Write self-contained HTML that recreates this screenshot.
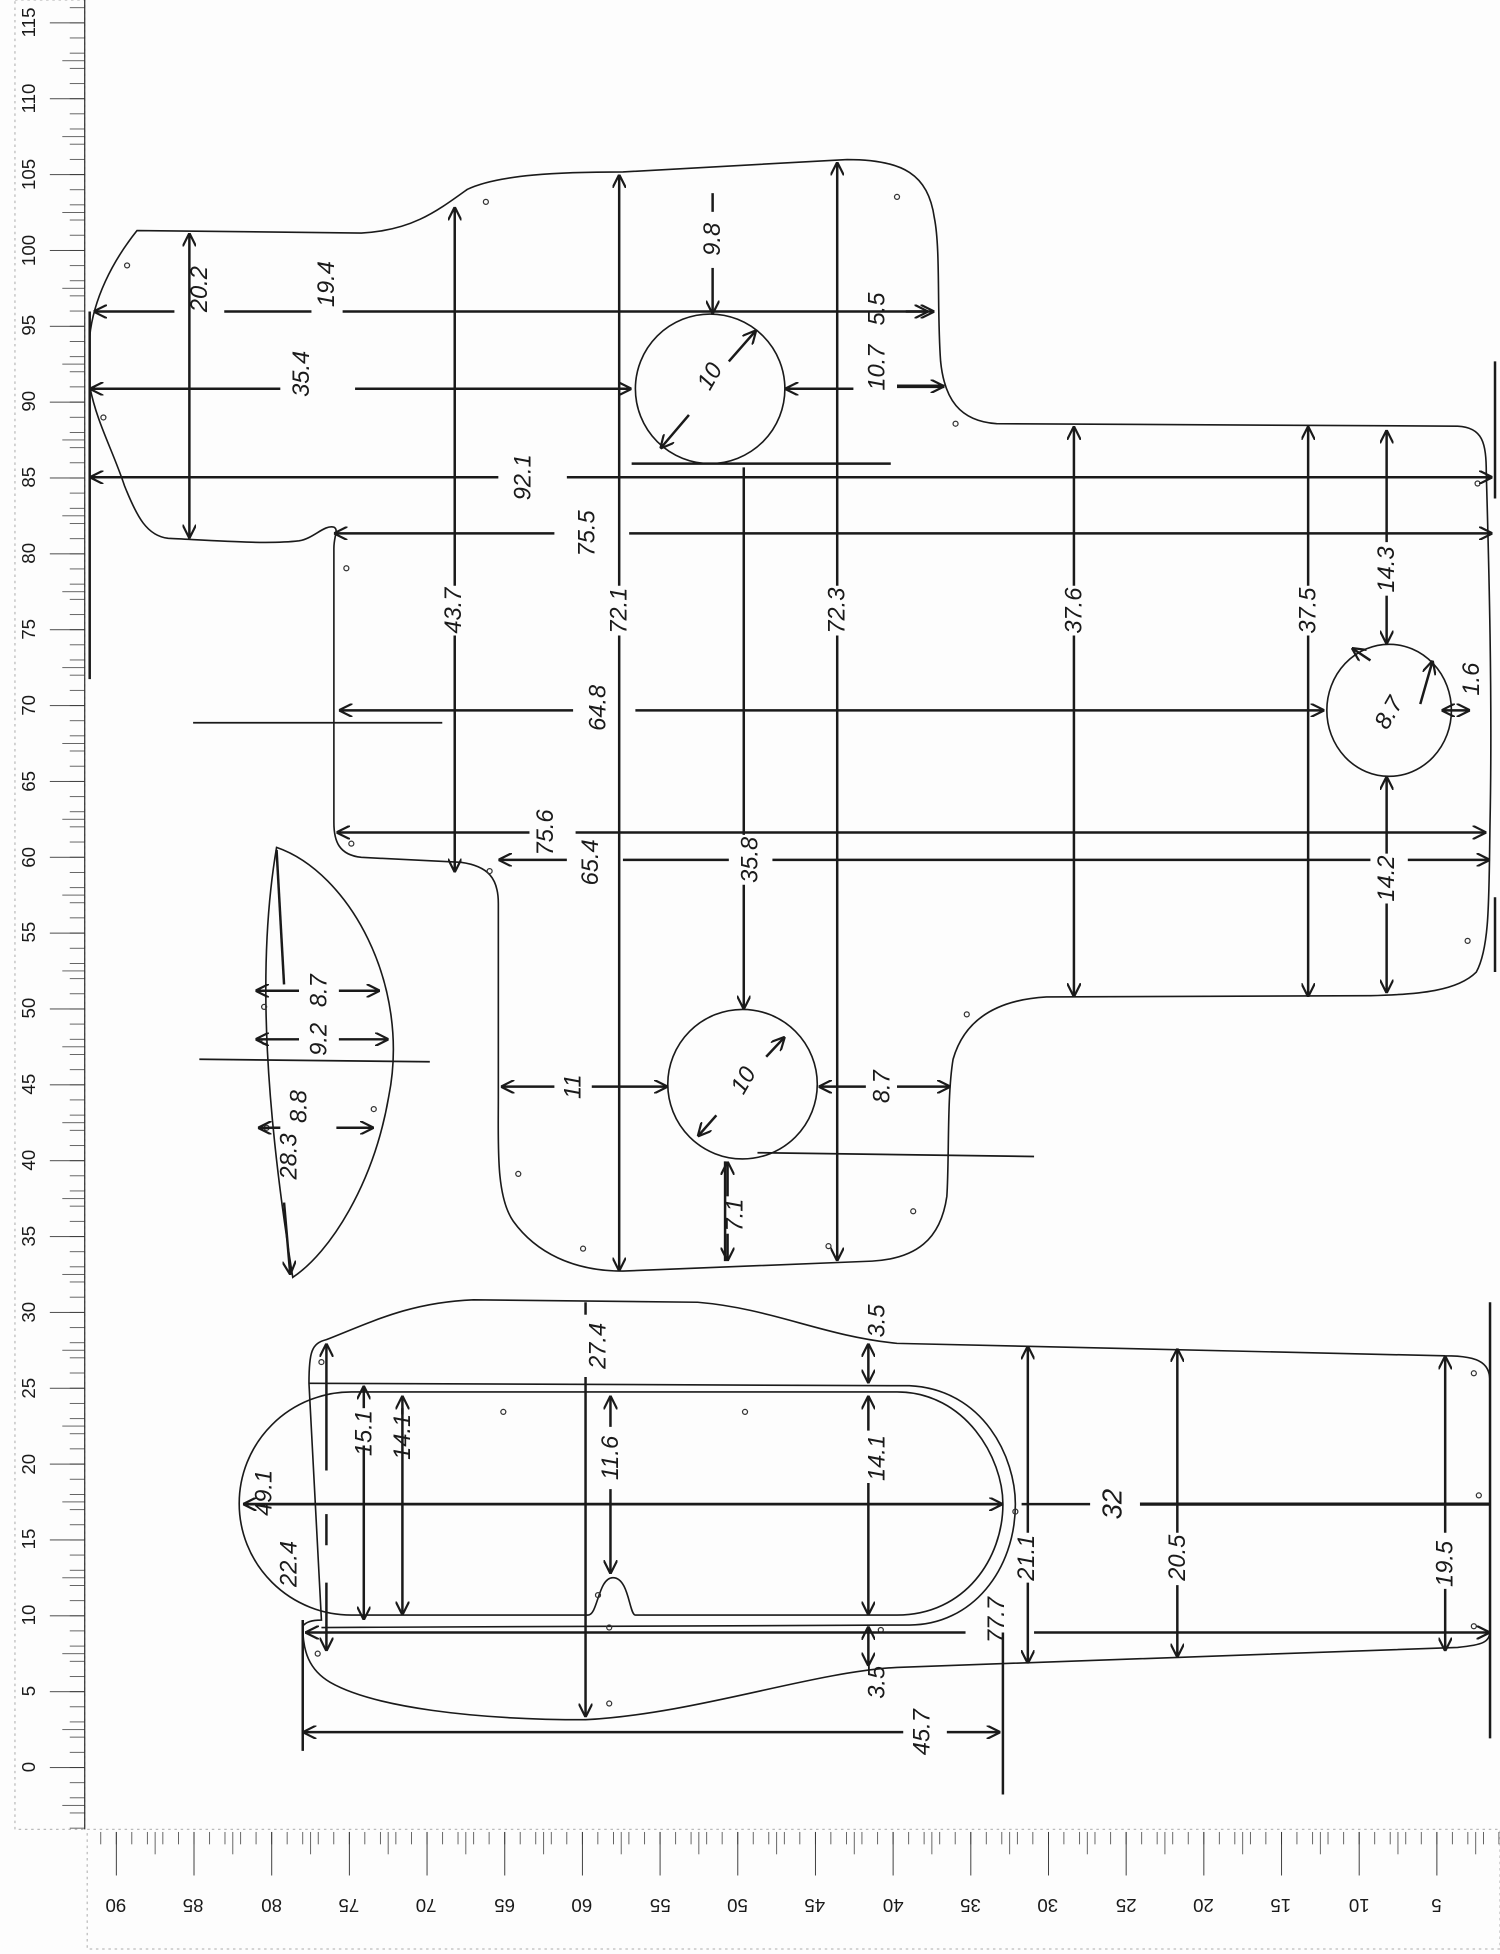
<!DOCTYPE html>
<html><head><meta charset="utf-8"><style>
html,body{margin:0;padding:0;background:#fdfdfd;}
svg{display:block;}
text{font-family:"Liberation Sans",sans-serif;fill:#1a1a1a;}
.h{font-size:19px;font-style:italic;}
.r{font-size:15px;fill:#333;}
</style></head><body>
<svg width="1500" height="1954" viewBox="0 0 1204 1568" preserveAspectRatio="none" xmlns="http://www.w3.org/2000/svg">
<defs>
<marker id="a" viewBox="0 0 10 10" refX="10" refY="5" markerWidth="11" markerHeight="11" orient="auto-start-reverse" markerUnits="userSpaceOnUse"><path d="M0,0 L10,5 L0,10" fill="none" stroke="#1a1a1a" stroke-width="1.6"/></marker>
<pattern id="lt" patternUnits="userSpaceOnUse" width="80" height="12.174" x="0" y="1418"><line x1="56" y1="0" x2="68" y2="0" stroke="#333" stroke-width="1.2"/></pattern>
<pattern id="lm" patternUnits="userSpaceOnUse" width="80" height="60.87" x="0" y="1418"><line x1="40" y1="0" x2="68" y2="0" stroke="#333" stroke-width="1.5"/></pattern>
<pattern id="lh" patternUnits="userSpaceOnUse" width="80" height="60.87" x="0" y="1448.4"><line x1="50" y1="0" x2="68" y2="0" stroke="#333" stroke-width="1.2"/></pattern>
<pattern id="bt" patternUnits="userSpaceOnUse" width="12.47" height="60" x="93" y="1470"><line x1="0" y1="0" x2="0" y2="10" stroke="#333" stroke-width="1.2"/></pattern>
<pattern id="bm" patternUnits="userSpaceOnUse" width="62.35" height="60" x="93" y="1470"><line x1="0" y1="0" x2="0" y2="35" stroke="#333" stroke-width="1.5"/></pattern>
<pattern id="bh" patternUnits="userSpaceOnUse" width="62.35" height="60" x="124.2" y="1470"><line x1="0" y1="0" x2="0" y2="18" stroke="#333" stroke-width="1.2"/></pattern>
</defs>
<rect width="1204" height="1568" fill="#fdfdfd"/>
<!-- left ruler -->
<rect x="12" y="0" width="56" height="1468" fill="none" stroke="#bbb" stroke-dasharray="2,3"/>
<line x1="68" y1="0" x2="68" y2="1468" stroke="#333"/>
<rect x="0" y="0" width="70" height="1468" fill="url(#lt)"/>
<rect x="0" y="0" width="70" height="1468" fill="url(#lh)"/>
<rect x="0" y="0" width="70" height="1468" fill="url(#lm)"/>
<g class="r">
<text transform="translate(28,1418) rotate(-90)" text-anchor="middle">0</text>
<text transform="translate(28,1357) rotate(-90)" text-anchor="middle">5</text>
<text transform="translate(28,1296) rotate(-90)" text-anchor="middle">10</text>
<text transform="translate(28,1235) rotate(-90)" text-anchor="middle">15</text>
<text transform="translate(28,1175) rotate(-90)" text-anchor="middle">20</text>
<text transform="translate(28,1114) rotate(-90)" text-anchor="middle">25</text>
<text transform="translate(28,1053) rotate(-90)" text-anchor="middle">30</text>
<text transform="translate(28,992) rotate(-90)" text-anchor="middle">35</text>
<text transform="translate(28,931) rotate(-90)" text-anchor="middle">40</text>
<text transform="translate(28,870) rotate(-90)" text-anchor="middle">45</text>
<text transform="translate(28,809) rotate(-90)" text-anchor="middle">50</text>
<text transform="translate(28,748) rotate(-90)" text-anchor="middle">55</text>
<text transform="translate(28,688) rotate(-90)" text-anchor="middle">60</text>
<text transform="translate(28,627) rotate(-90)" text-anchor="middle">65</text>
<text transform="translate(28,566) rotate(-90)" text-anchor="middle">70</text>
<text transform="translate(28,505) rotate(-90)" text-anchor="middle">75</text>
<text transform="translate(28,444) rotate(-90)" text-anchor="middle">80</text>
<text transform="translate(28,383) rotate(-90)" text-anchor="middle">85</text>
<text transform="translate(28,322) rotate(-90)" text-anchor="middle">90</text>
<text transform="translate(28,261) rotate(-90)" text-anchor="middle">95</text>
<text transform="translate(28,201) rotate(-90)" text-anchor="middle">100</text>
<text transform="translate(28,140) rotate(-90)" text-anchor="middle">105</text>
<text transform="translate(28,79) rotate(-90)" text-anchor="middle">110</text>
<text transform="translate(28,18) rotate(-90)" text-anchor="middle">115</text>
</g>
<!-- bottom ruler -->
<rect x="70" y="1468" width="1134" height="96" fill="none" stroke="#bbb" stroke-dasharray="2,3"/>
<rect x="70" y="1470" width="1134" height="40" fill="url(#bt)"/>
<rect x="70" y="1470" width="1134" height="40" fill="url(#bh)"/>
<rect x="70" y="1470" width="1134" height="40" fill="url(#bm)"/>
<g class="r">
<text transform="translate(93,1524) rotate(180)" text-anchor="middle">90</text>
<text transform="translate(155,1524) rotate(180)" text-anchor="middle">85</text>
<text transform="translate(218,1524) rotate(180)" text-anchor="middle">80</text>
<text transform="translate(280,1524) rotate(180)" text-anchor="middle">75</text>
<text transform="translate(342,1524) rotate(180)" text-anchor="middle">70</text>
<text transform="translate(405,1524) rotate(180)" text-anchor="middle">65</text>
<text transform="translate(467,1524) rotate(180)" text-anchor="middle">60</text>
<text transform="translate(530,1524) rotate(180)" text-anchor="middle">55</text>
<text transform="translate(592,1524) rotate(180)" text-anchor="middle">50</text>
<text transform="translate(654,1524) rotate(180)" text-anchor="middle">45</text>
<text transform="translate(717,1524) rotate(180)" text-anchor="middle">40</text>
<text transform="translate(779,1524) rotate(180)" text-anchor="middle">35</text>
<text transform="translate(841,1524) rotate(180)" text-anchor="middle">30</text>
<text transform="translate(904,1524) rotate(180)" text-anchor="middle">25</text>
<text transform="translate(966,1524) rotate(180)" text-anchor="middle">20</text>
<text transform="translate(1028,1524) rotate(180)" text-anchor="middle">15</text>
<text transform="translate(1091,1524) rotate(180)" text-anchor="middle">10</text>
<text transform="translate(1153,1524) rotate(180)" text-anchor="middle">5</text>
</g>

<!-- shapes -->
<g fill="none" stroke="#1a1a1a" stroke-width="1.3">
<path d="M110,185 L290,187 C330,185 350,170 375,152 C400,140 450,138 500,138 L680,128 C725,128 745,140 750,175 C755,200 752,250 755,290 C758,320 770,338 800,340 L1170,342 C1190,343 1193,355 1193,380 C1195,450 1198,560 1196,660 C1195,720 1196,760 1185,780 C1170,795 1140,798 1100,799 L840,800 C805,802 775,815 765,850 C760,880 762,930 760,960 C755,995 735,1010 700,1012 L500,1020 C460,1020 430,1005 412,980 C398,960 400,920 400,880 L400,725 C400,705 392,695 370,692 L290,688 C272,686 268,675 268,660 L268,440 C268,430 272,425 268,423 C260,421 252,432 240,434 C215,437 175,434 135,432 C118,430 110,415 100,390 C90,360 78,340 72,310 L72,270 C75,240 90,210 110,185 Z"/>
<circle cx="570" cy="312" r="60"/>
<circle cx="596" cy="870" r="60"/>
<ellipse cx="1115" cy="570" rx="50" ry="53"/>
<path d="M222,680 C280,700 330,790 312,880 C300,950 265,1005 235,1025 C215,900 205,780 222,680 Z"/>
<path d="M262,1075 C300,1060 330,1045 380,1043 L560,1045 C620,1050 660,1072 720,1078 L1160,1088 C1190,1088 1196,1095 1196,1110 L1196,1308 C1196,1318 1190,1320 1170,1322 L720,1338 C650,1342 560,1375 470,1380 C380,1380 300,1370 265,1350 C248,1340 243,1325 243,1305 C245,1302 250,1300 258,1300 L248,1110 C248,1085 250,1078 262,1075 Z"/>
<path d="M282,1117 L720,1117 C775,1117 805,1170 805,1207 C805,1250 775,1296 720,1296 L510,1296 C505,1296 505,1266 492,1266 C480,1266 480,1296 472,1296 L282,1296 A90,89.5 0 0 1 282,1117 Z"/>
<path d="M248,1110 L730,1112 C790,1115 815,1170 815,1207 C815,1260 780,1304 730,1304 L258,1306"/>
</g>
<!-- holes -->
<g fill="none" stroke="#333" stroke-width="1">
<circle cx="102" cy="213" r="2"/><circle cx="390" cy="162" r="2"/><circle cx="720" cy="158" r="2"/><circle cx="83" cy="335" r="2"/><circle cx="278" cy="456" r="2"/><circle cx="767" cy="340" r="2"/><circle cx="282" cy="677" r="2"/><circle cx="393" cy="699" r="2"/><circle cx="1178" cy="755" r="2"/><circle cx="776" cy="814" r="2"/><circle cx="416" cy="942" r="2"/><circle cx="468" cy="1002" r="2"/><circle cx="733" cy="972" r="2"/><circle cx="665" cy="1000" r="2"/><circle cx="1186" cy="388" r="2"/>
<circle cx="212" cy="808" r="2"/><circle cx="212" cy="836" r="2"/><circle cx="300" cy="890" r="2"/><circle cx="214" cy="905" r="2"/>
<circle cx="258" cy="1093" r="2"/><circle cx="404" cy="1133" r="2"/><circle cx="598" cy="1133" r="2"/><circle cx="489" cy="1306" r="2"/><circle cx="489" cy="1367" r="2"/><circle cx="255" cy="1327" r="2"/><circle cx="1183" cy="1102" r="2"/><circle cx="1187" cy="1200" r="2"/><circle cx="1183" cy="1305" r="2"/><circle cx="815" cy="1213" r="2"/><circle cx="707" cy="1308" r="2"/><circle cx="480" cy="1280" r="2"/>
</g>
<!-- dimension lines -->
<g stroke="#1a1a1a" stroke-width="2" fill="none">
<line x1="152" y1="187" x2="152" y2="432" marker-start="url(#a)" marker-end="url(#a)"/>
<line x1="75" y1="250" x2="140" y2="250" marker-start="url(#a)"/>
<line x1="180" y1="250" x2="250" y2="250"/><line x1="275" y1="250" x2="745" y2="250" marker-end="url(#a)"/>
<line x1="72" y1="312" x2="225" y2="312" marker-start="url(#a)"/><line x1="285" y1="312" x2="507" y2="312" marker-end="url(#a)"/>
<line x1="72" y1="383" x2="400" y2="383" marker-start="url(#a)"/><line x1="455" y1="383" x2="1198" y2="383" marker-end="url(#a)"/>
<line x1="268" y1="428" x2="445" y2="428" marker-start="url(#a)"/><line x1="505" y1="428" x2="1198" y2="428" marker-end="url(#a)"/>
<line x1="272" y1="570" x2="460" y2="570" marker-start="url(#a)"/><line x1="510" y1="570" x2="1063" y2="570" marker-end="url(#a)"/>
<line x1="270" y1="668" x2="425" y2="668" marker-start="url(#a)"/><line x1="462" y1="668" x2="1193" y2="668" marker-end="url(#a)"/>
<line x1="400" y1="690" x2="455" y2="690" marker-start="url(#a)"/><line x1="500" y1="690" x2="585" y2="690"/><line x1="620" y1="690" x2="1100" y2="690"/><line x1="1130" y1="690" x2="1196" y2="690" marker-end="url(#a)"/>
<line x1="365" y1="166" x2="365" y2="470" marker-start="url(#a)"/><line x1="365" y1="510" x2="365" y2="700" marker-end="url(#a)"/>
<line x1="497" y1="140" x2="497" y2="470" marker-start="url(#a)"/><line x1="497" y1="510" x2="497" y2="1020" marker-end="url(#a)"/>
<line x1="672" y1="130" x2="672" y2="470" marker-start="url(#a)"/><line x1="672" y1="510" x2="672" y2="1012" marker-end="url(#a)"/>
<line x1="862" y1="342" x2="862" y2="470" marker-start="url(#a)"/><line x1="862" y1="510" x2="862" y2="800" marker-end="url(#a)"/>
<line x1="1050" y1="342" x2="1050" y2="470" marker-start="url(#a)"/><line x1="1050" y1="510" x2="1050" y2="800" marker-end="url(#a)"/>
<line x1="1113" y1="345" x2="1113" y2="435" marker-start="url(#a)"/><line x1="1113" y1="478" x2="1113" y2="517" marker-end="url(#a)"/>
<line x1="1113" y1="623" x2="1113" y2="685" marker-start="url(#a)"/><line x1="1113" y1="725" x2="1113" y2="797" marker-end="url(#a)"/>
<line x1="597" y1="375" x2="597" y2="670"/><line x1="597" y1="710" x2="597" y2="810" marker-end="url(#a)"/>
<line x1="507" y1="372" x2="715" y2="372"/>
<line x1="572" y1="155" x2="572" y2="170" /><line x1="572" y1="215" x2="572" y2="252" marker-end="url(#a)"/>
<line x1="630" y1="312" x2="685" y2="312" marker-start="url(#a)"/><line x1="720" y1="310" x2="758" y2="310" marker-end="url(#a)" stroke-width="3"/>
<line x1="727" y1="250" x2="750" y2="250" marker-end="url(#a)"/>
<line x1="530" y1="360" x2="553" y2="333" marker-start="url(#a)"/><line x1="585" y1="290" x2="607" y2="265" marker-end="url(#a)"/>
<line x1="1100" y1="530" x2="1085" y2="520" marker-end="url(#a)"/><line x1="1140" y1="565" x2="1150" y2="530" marker-end="url(#a)"/>
<line x1="1157" y1="570" x2="1180" y2="570" marker-start="url(#a)" marker-end="url(#a)"/>
<line x1="1200" y1="290" x2="1200" y2="400"/><line x1="1200" y1="720" x2="1200" y2="780"/>
<line x1="72" y1="250" x2="72" y2="545"/>
<line x1="402" y1="872" x2="445" y2="872" marker-start="url(#a)"/><line x1="475" y1="872" x2="536" y2="872" marker-end="url(#a)"/>
<line x1="657" y1="872" x2="695" y2="872" marker-start="url(#a)"/><line x1="720" y1="872" x2="763" y2="872" marker-end="url(#a)"/>
<line x1="582" y1="932" x2="582" y2="1012"/><line x1="584" y1="960" x2="584" y2="932" marker-end="url(#a)"/><line x1="584" y1="990" x2="584" y2="1012" marker-end="url(#a)"/>
<line x1="608" y1="925" x2="830" y2="928" stroke-width="1.4"/>
<line x1="560" y1="912" x2="575" y2="895" marker-start="url(#a)"/><line x1="615" y1="848" x2="630" y2="832" marker-end="url(#a)"/>
<line x1="222" y1="682" x2="228" y2="790"/><line x1="228" y1="965" x2="233" y2="1023" marker-end="url(#a)"/>
<line x1="160" y1="850" x2="345" y2="852" stroke-width="1.4"/>
<line x1="205" y1="795" x2="240" y2="795" marker-start="url(#a)"/><line x1="272" y1="795" x2="305" y2="795" marker-end="url(#a)"/>
<line x1="205" y1="834" x2="240" y2="834" marker-start="url(#a)"/><line x1="272" y1="834" x2="312" y2="834" marker-end="url(#a)"/>
<line x1="207" y1="905" x2="225" y2="905" marker-start="url(#a)"/><line x1="270" y1="905" x2="300" y2="905" marker-end="url(#a)"/>
<line x1="155" y1="580" x2="355" y2="580" stroke-width="1.4"/>
<!-- lower -->
<line x1="195" y1="1207" x2="805" y2="1207" marker-start="url(#a)" marker-end="url(#a)" stroke-width="2.2"/>
<line x1="820" y1="1207" x2="875" y2="1207"/><line x1="915" y1="1207" x2="1196" y2="1207" stroke-width="2.6"/>
<line x1="262" y1="1078" x2="262" y2="1180" marker-start="url(#a)"/><line x1="262" y1="1215" x2="262" y2="1240"/><line x1="262" y1="1270" x2="262" y2="1325" marker-end="url(#a)"/>
<line x1="292" y1="1160" x2="292" y2="1300" marker-end="url(#a)"/><line x1="292" y1="1112" x2="292" y2="1130" marker-start="url(#a)"/>
<line x1="323" y1="1130" x2="323" y2="1296" marker-end="url(#a)"/><line x1="323" y1="1120" x2="323" y2="1135" marker-start="url(#a)"/>
<line x1="470" y1="1045" x2="470" y2="1055"/><line x1="470" y1="1105" x2="470" y2="1378" marker-end="url(#a)"/>
<line x1="490" y1="1120" x2="490" y2="1145" marker-start="url(#a)"/><line x1="490" y1="1195" x2="490" y2="1263" marker-end="url(#a)"/>
<line x1="697" y1="1078" x2="697" y2="1110" marker-start="url(#a)" marker-end="url(#a)"/>
<line x1="697" y1="1120" x2="697" y2="1148" marker-start="url(#a)"/><line x1="697" y1="1190" x2="697" y2="1296" marker-end="url(#a)"/>
<line x1="697" y1="1305" x2="697" y2="1337" marker-start="url(#a)" marker-end="url(#a)"/>
<line x1="825" y1="1080" x2="825" y2="1230" marker-start="url(#a)"/><line x1="825" y1="1270" x2="825" y2="1335" marker-end="url(#a)"/>
<line x1="945" y1="1082" x2="945" y2="1230" marker-start="url(#a)"/><line x1="945" y1="1272" x2="945" y2="1330" marker-end="url(#a)"/>
<line x1="1160" y1="1088" x2="1160" y2="1230" marker-start="url(#a)"/><line x1="1160" y1="1275" x2="1160" y2="1325" marker-end="url(#a)"/>
<line x1="245" y1="1310" x2="775" y2="1310" marker-start="url(#a)"/><line x1="830" y1="1310" x2="1196" y2="1310" marker-end="url(#a)"/>
<line x1="243" y1="1390" x2="725" y2="1390" marker-start="url(#a)"/><line x1="760" y1="1390" x2="803" y2="1390" marker-end="url(#a)"/>
<line x1="243" y1="1300" x2="243" y2="1405"/><line x1="805" y1="1310" x2="805" y2="1440"/>
<line x1="1196" y1="1045" x2="1196" y2="1395"/>
</g>
<!-- labels -->
<g class="h" text-anchor="middle">
<text transform="translate(166,232) rotate(-90)">20.2</text>
<text transform="translate(268,228) rotate(-90)">19.4</text>
<text transform="translate(248,300) rotate(-90)">35.4</text>
<text transform="translate(426,383) rotate(-90)">92.1</text>
<text transform="translate(477,428) rotate(-90)">75.5</text>
<text transform="translate(370,490) rotate(-90)">43.7</text>
<text transform="translate(503,490) rotate(-90)">72.1</text>
<text transform="translate(678,490) rotate(-90)">72.3</text>
<text transform="translate(578,192) rotate(-90)">9.8</text>
<text transform="translate(575,305) rotate(-60)">10</text>
<text transform="translate(710,295) rotate(-90)">10.7</text>
<text transform="translate(710,248) rotate(-90)">5.5</text>
<text transform="translate(868,490) rotate(-90)">37.6</text>
<text transform="translate(1056,490) rotate(-90)">37.5</text>
<text transform="translate(1119,457) rotate(-90)">14.3</text>
<text transform="translate(486,568) rotate(-90)">64.8</text>
<text transform="translate(444,668) rotate(-90)">75.6</text>
<text transform="translate(480,692) rotate(-90)">65.4</text>
<text transform="translate(608,690) rotate(-90)">35.8</text>
<text transform="translate(1120,575) rotate(-60)">8.7</text>
<text transform="translate(1187,545) rotate(-90)">1.6</text>
<text transform="translate(1119,705) rotate(-90)">14.2</text>
<text transform="translate(262,795) rotate(-90)">8.7</text>
<text transform="translate(262,834) rotate(-90)">9.2</text>
<text transform="translate(246,888) rotate(-90)">8.8</text>
<text transform="translate(238,928) rotate(-90)">28.3</text>
<text transform="translate(466,872) rotate(-90)">11</text>
<text transform="translate(602,870) rotate(-60)">10</text>
<text transform="translate(714,872) rotate(-90)">8.7</text>
<text transform="translate(596,975) rotate(-90)">7.1</text>
<text transform="translate(486,1080) rotate(-90)">27.4</text>
<text transform="translate(710,1060) rotate(-90)">3.5</text>
<text transform="translate(218,1198) rotate(-90)">49.1</text>
<text transform="translate(238,1255) rotate(-90)">22.4</text>
<text transform="translate(298,1150) rotate(-90)">15.1</text>
<text transform="translate(329,1153) rotate(-90)">14.1</text>
<text transform="translate(496,1170) rotate(-90)">11.6</text>
<text transform="translate(710,1170) rotate(-90)">14.1</text>
<text transform="translate(900,1207) rotate(-90)" style="font-size:22px">32</text>
<text transform="translate(830,1250) rotate(-90)">21.1</text>
<text transform="translate(806,1300) rotate(-90)">77.7</text>
<text transform="translate(951,1250) rotate(-90)">20.5</text>
<text transform="translate(1166,1255) rotate(-90)">19.5</text>
<text transform="translate(710,1350) rotate(-90)">3.5</text>
<text transform="translate(746,1390) rotate(-90)">45.7</text>
</g>
</svg>
</body></html>
